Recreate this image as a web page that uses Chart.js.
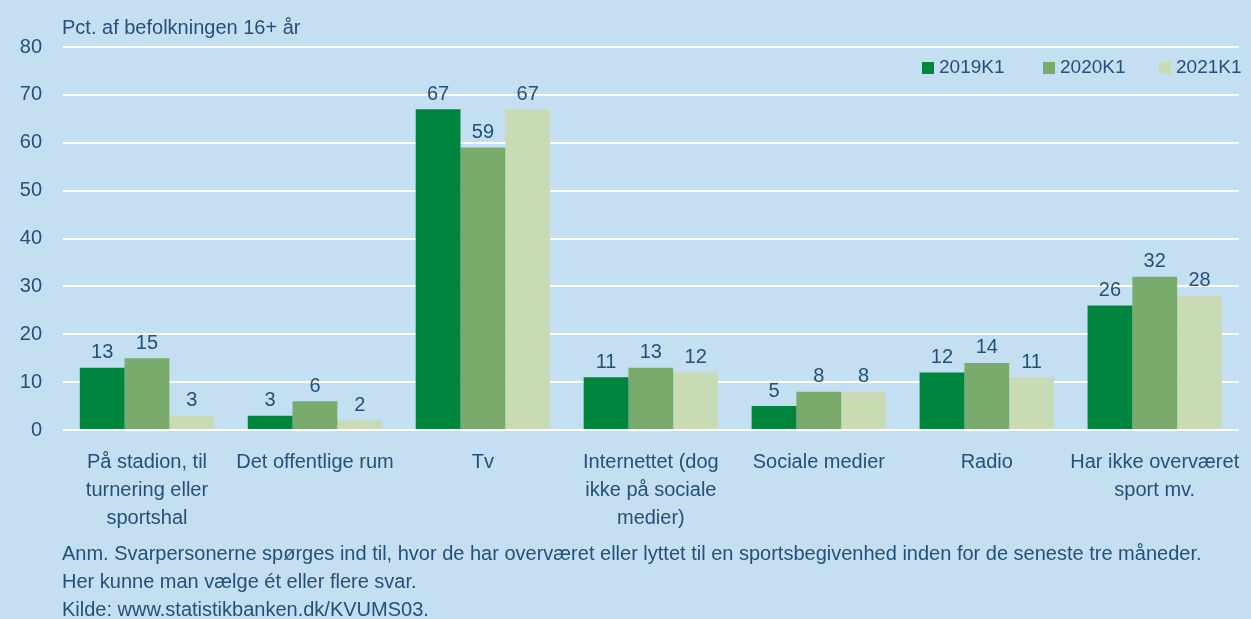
<!DOCTYPE html>
<html lang="da">
<head>
<meta charset="utf-8">
<script src="https://cdn.jsdelivr.net/npm/chart.js@4/dist/chart.umd.min.js"></script>
<style>
  html, body { margin: 0; padding: 0; background: #c5dff2; }
  #wrap { position: relative; width: 1251px; height: 619px; overflow: hidden; }
  #chartBox { position: absolute; left: 0; top: 0; width: 1251px; height: 540px; }
  #note { position: absolute; left: 62px; top: 539px; font: 20px "Liberation Sans", Arial, sans-serif;
          color: #24507a; line-height: 28px; white-space: nowrap; }
</style>
</head>
<body>
<div id="wrap">
  <div id="chartBox"><canvas id="chart"></canvas></div>
  <div id="note">
    Anm. Svarpersonerne spørges ind til, hvor de har overværet eller lyttet til en sportsbegivenhed inden for de seneste tre måneder.<br>
    Her kunne man vælge ét eller flere svar.<br>
    Kilde: www.statistikbanken.dk/KVUMS03.
  </div>
</div>
<script>
// kategorier og serier
var categories = [
  ['På stadion, til', 'turnering eller', 'sportshal'],
  'Det offentlige rum',
  'Tv',
  ['Internettet (dog', 'ikke på sociale', 'medier)'],
  'Sociale medier',
  'Radio',
  ['Har ikke overværet', 'sport mv.']
];
var seriesNames = ['2019K1', '2020K1', '2021K1'];
var values2019 = [13, 3, 67, 11, 5, 12, 26];
var values2020 = [15, 6, 59, 13, 8, 14, 32];
var values2021 = [3, 2, 67, 12, 8, 11, 28];
var yTicks = [0, 10, 20, 30, 40, 50, 60, 70, 80];

var textColor = '#24507a';
var fontFamily = '"Liberation Sans", Arial, sans-serif';
var colors = ['#00853f', '#78ab6c', '#c8dbb4'];

// værdier over søjlerne, titel og forklaring
var extrasPlugin = {
    id: 'extras',
    afterDatasetsDraw: function(chart) {
        var ctx = chart.ctx;
        ctx.save();
        ctx.fillStyle = textColor;
        ctx.font = '20px ' + fontFamily;
        ctx.textAlign = 'center';
        ctx.textBaseline = 'bottom';
        chart.data.datasets.forEach(function(ds, i) {
            chart.getDatasetMeta(i).data.forEach(function(bar, j) {
                ctx.fillText(ds.data[j], bar.x, bar.y - 5);
            });
        });

        // titel
        ctx.textAlign = 'left';
        ctx.textBaseline = 'middle';
        ctx.font = '20px ' + fontFamily;
        ctx.fillText('Pct. af befolkningen 16+ år', 62, 28);

        // forklaring
        var legendX = [922, 1043, 1159];
        ctx.font = '19px ' + fontFamily;
        chart.data.datasets.forEach(function(ds, i) {
            ctx.fillStyle = ds.backgroundColor;
            ctx.fillRect(legendX[i], 62, 12, 12);
            ctx.fillStyle = textColor;
            ctx.fillText(ds.label, legendX[i] + 17, 68);
        });
        ctx.restore();
    }
};

var ctx = document.getElementById('chart').getContext('2d');
var chart = new Chart(ctx, {
    type: 'bar',
    data: {
        labels: categories,
        datasets: [
            { label: seriesNames[0], data: values2019, backgroundColor: colors[0] },
            { label: seriesNames[1], data: values2020, backgroundColor: colors[1] },
            { label: seriesNames[2], data: values2021, backgroundColor: colors[2] }
        ]
    },
    options: {
        responsive: true,
        maintainAspectRatio: false,
        animation: false,
        datasets: {
            bar: {
                categoryPercentage: 0.8,
                barPercentage: 1.0,
                borderWidth: 0
            }
        },
        layout: { padding: { top: 47, right: 11, bottom: 10, left: 0 } },
        plugins: {
            legend: { display: false },
            tooltip: { enabled: false }
        },
        scales: {
            x: {
                grid: { display: false },
                border: { display: false },
                ticks: {
                    color: textColor,
                    font: { family: fontFamily, size: 20, lineHeight: 1.38 },
                    padding: 11,
                    maxRotation: 0,
                    autoSkip: false
                },
                afterFit: function(s) { s.height = 100; }
            },
            y: {
                min: 0,
                max: 80,
                afterBuildTicks: function(s) {
                    s.ticks = yTicks.map(function(v) { return { value: v }; });
                },
                grid: { color: '#ffffff', lineWidth: 2, drawTicks: false },
                border: { display: false },
                ticks: {
                    color: textColor,
                    font: { family: fontFamily, size: 20 },
                    padding: 21
                },
                afterFit: function(s) { s.width = 63; }
            }
        }
    },
    plugins: [extrasPlugin]
});
</script>
</body>
</html>
